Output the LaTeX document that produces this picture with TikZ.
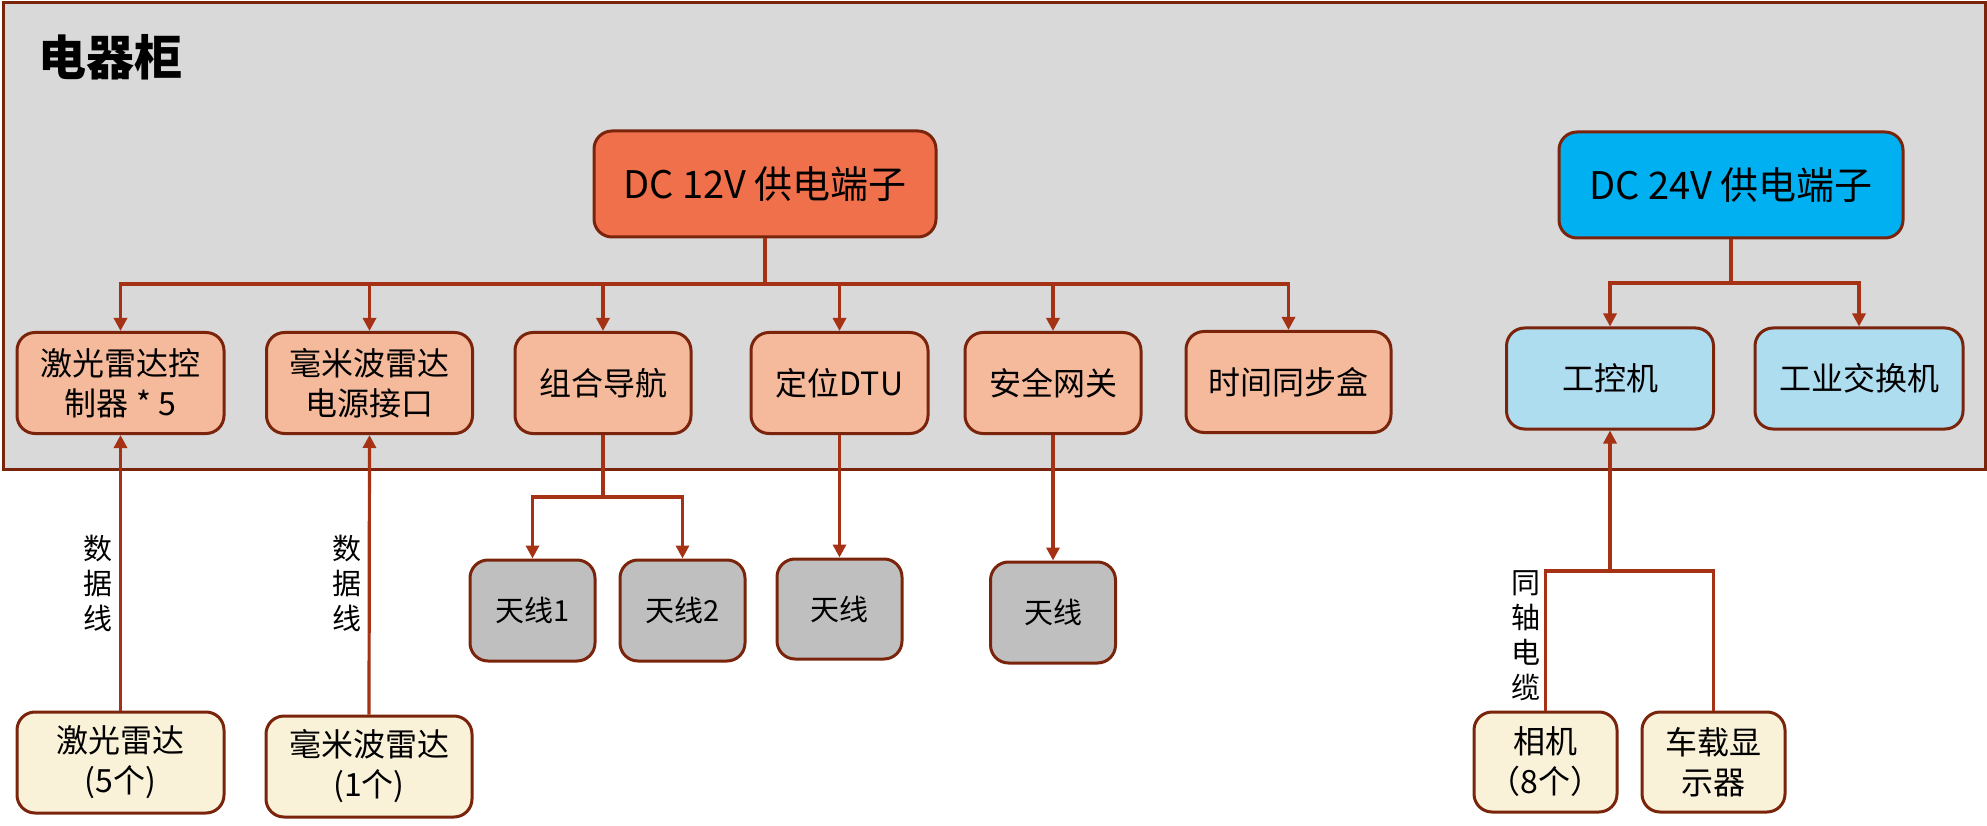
\documentclass[tikz,border=0pt]{standalone}
\usepackage{fontspec}
\setmainfont{Noto Sans CJK SC}
\usetikzlibrary{arrows.meta}
\definecolor{cabfill}{RGB}{217,217,217}
\definecolor{edgecol}{RGB}{122,36,12}
\definecolor{linecol}{RGB}{165,50,20}
\definecolor{dcred}{RGB}{239,112,75}
\definecolor{dcblue}{RGB}{0,176,240}
\definecolor{lightorange}{RGB}{245,186,156}
\definecolor{lightblue}{RGB}{175,221,240}
\definecolor{antgray}{RGB}{191,191,191}
\definecolor{cream}{RGB}{250,241,217}
\tikzset{
  box/.style={draw=edgecol, line width=3pt, rounded corners=18pt, align=center,
    inner sep=0pt, font=\fontsize{32}{40}\selectfont},
  dcbox/.style={box, font=\fontsize{38}{46}\selectfont},
  orangebox/.style={box, fill=lightorange, minimum height=101pt},
  bluebox/.style={box, fill=lightblue, minimum height=101pt},
  antbox/.style={box, fill=antgray, minimum width=125pt, minimum height=101pt,
    font=\fontsize{29}{36}\selectfont},
  creambox/.style={box, fill=cream, minimum height=101pt},
  conn/.style={draw=linecol, line width=3.2pt},
  arr/.style={conn, -{Triangle[length=13pt,width=13pt]}},
  vlabel/.style={align=center, inner sep=0pt, font=\fontsize{29}{35}\selectfont}
}
\begin{document}
\begin{tikzpicture}[x=1pt,y=-1pt]
\useasboundingbox (0,0) rectangle (1987,826);
% cabinet
\node[draw=edgecol, fill=cabfill, line width=3pt, anchor=north west, inner sep=0pt,
  minimum width=1982pt, minimum height=466.5pt] (cab) at (1.5,1.5) {};
\node[anchor=base west, inner sep=0pt, font=\fontsize{48}{56}\selectfont\bfseries] (title) at (38,76) {电器柜};
% power terminals
\node[dcbox, fill=dcred, minimum width=342pt, minimum height=106pt] (dc12) at (765,184) {DC 12V 供电端子};
\node[dcbox, fill=dcblue, minimum width=344pt, minimum height=106pt] (dc24) at (1731,185) {DC 24V 供电端子};
% 12V row
\node[orangebox, minimum width=207pt] (c1) at (120.5,383) {激光雷达控\\制器 * 5};
\node[orangebox, minimum width=206pt] (c2) at (369.5,383) {毫米波雷达\\电源接口};
\node[orangebox, minimum width=176pt] (c3) at (603,383) {组合导航};
\node[orangebox, minimum width=177pt] (c4) at (839.5,383) {定位DTU};
\node[orangebox, minimum width=176pt] (c5) at (1053,383) {安全网关};
\node[orangebox, minimum width=205pt] (c6) at (1288.5,382) {时间同步盒};
% 24V row
\node[bluebox, minimum width=207pt] (ipc) at (1610,378.5) {工控机};
\node[bluebox, minimum width=208pt] (sw) at (1859,378.5) {工业交换机};
% antennas
\node[antbox] (a1) at (532.5,610.5) {天线1};
\node[antbox] (a2) at (682.5,610.5) {天线2};
\node[antbox, minimum height=100pt] (a3) at (839.5,609) {天线};
\node[antbox] (a4) at (1053,612.5) {天线};
% bottom devices
\node[creambox, minimum width=207pt] (lidar) at (120.5,762.5) {激光雷达\\(5个)};
\node[creambox, minimum width=206pt] (radar) at (369,766.5) {毫米波雷达\\(1个)};
\node[creambox, minimum width=143pt, minimum height=100pt] (cam) at (1545.5,762) {相机\\（8个）};
\node[creambox, minimum width=143pt, minimum height=100pt] (disp) at (1713.5,762) {车载显\\示器};
% 12V connectors
\coordinate (b12) at (765,284);
\draw[conn] (dc12.south) -- (b12);
\foreach \n in {c1,c2,c3,c4,c5,c6} \draw[arr] (b12) -| (\n.north);
% 24V connectors
\coordinate (b24) at (1731,283);
\draw[conn] (dc24.south) -- (b24);
\draw[arr] (b24) -| (ipc.north);
\draw[arr] (b24) -| (sw.north);
% antennas
\coordinate (bn) at (603,497);
\draw[conn] (c3.south) -- (bn);
\draw[arr] (bn) -| (a1.north);
\draw[arr] (bn) -| (a2.north);
\draw[arr] (c4.south) -- (a3.north);
\draw[arr] (c5.south) -- (a4.north);
% data lines
\draw[arr] (lidar.north) -- (c1.south);
\draw[arr] (radar.north) -- (c2.south);
\node[vlabel] (l1) at (98,583) {数\\据\\线};
\node[vlabel] (l2) at (347,583) {数\\据\\线};
% coax
\coordinate (bc) at (1610,571);
\draw[conn] (cam.north) |- (disp.north |- bc) -- (disp.north);
\draw[arr] (bc) -- (ipc.south);
\node[vlabel] (l3) at (1526,636) {同\\轴\\电\\缆};
\end{tikzpicture}
\end{document}
